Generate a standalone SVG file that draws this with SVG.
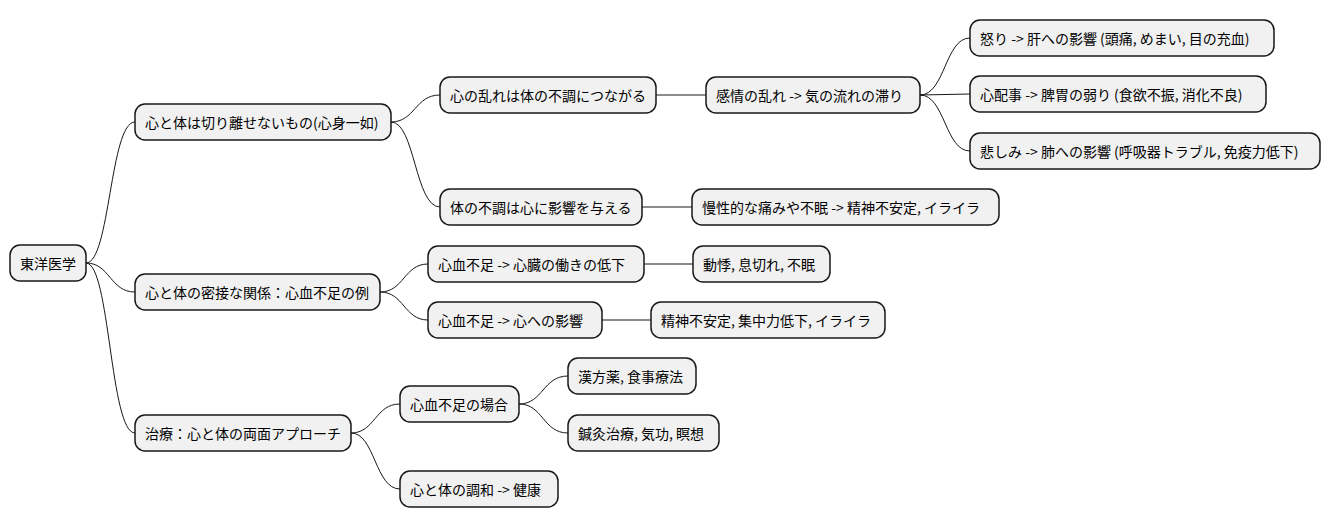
<svg xmlns="http://www.w3.org/2000/svg" width="1331" height="527" viewBox="0 0 1331 527">
<style>
rect{fill:#F1F1F1;stroke:#181818;stroke-width:1.5}
text{font-family:"Noto Sans CJK JP","Liberation Sans",sans-serif;font-size:14px;fill:#000;dominant-baseline:central}
path{fill:none;stroke:#181818;stroke-width:1}
</style>
<rect width="1331" height="527" style="fill:#fff;stroke:none"/>
<g id="connectors">
<path d="M86,263 C110,263 110,122 135,122"/>
<path d="M86,263 C110,263 110,292 135,292"/>
<path d="M86,263 C110,263 110,433 135,433"/>
<path d="M391,122 C415,122 415,95 440,95"/>
<path d="M391,122 C415,122 415,207 440,207"/>
<path d="M656,95 L706,95"/>
<path d="M920,95 C945,95 945,38 970,38"/>
<path d="M920,95 L970,94"/>
<path d="M920,95 C945,95 945,151 970,151"/>
<path d="M642,207 L692,207"/>
<path d="M380,292 C404,292 404,264 428,264"/>
<path d="M380,292 C404,292 404,320 428,320"/>
<path d="M644,264 L693,264"/>
<path d="M602,320 L651,320"/>
<path d="M351,433 C375,433 375,404 400,404"/>
<path d="M351,433 C375,433 375,489 400,489"/>
<path d="M519,404 C543,404 543,376 568,376"/>
<path d="M519,404 C543,404 543,433 568,433"/>
</g>
<g id="n0"><rect x="10" y="245" width="76" height="36" rx="10"/><text x="20" y="263">東洋医学</text></g>
<g id="n1"><rect x="135" y="104" width="256" height="36" rx="10"/><text x="145" y="122">心と体は切り離せないもの(心身一如)</text></g>
<g id="n2"><rect x="135" y="274" width="245" height="36" rx="10"/><text x="145" y="292">心と体の密接な関係：心血不足の例</text></g>
<g id="n3"><rect x="135" y="415" width="216" height="36" rx="10"/><text x="145" y="433">治療：心と体の両面アプローチ</text></g>
<g id="n4"><rect x="440" y="77" width="216" height="36" rx="10"/><text x="450" y="95">心の乱れは体の不調につながる</text></g>
<g id="n5"><rect x="440" y="189" width="202" height="36" rx="10"/><text x="450" y="207">体の不調は心に影響を与える</text></g>
<g id="n6"><rect x="706" y="77" width="214" height="36" rx="10"/><text x="716" y="95">感情の乱れ -&gt; 気の流れの滞り</text></g>
<g id="n7"><rect x="970" y="20" width="304" height="36" rx="10"/><text x="980" y="38">怒り -&gt; 肝への影響 (頭痛, めまい, 目の充血)</text></g>
<g id="n8"><rect x="970" y="76" width="296" height="36" rx="10"/><text x="980" y="94">心配事 -&gt; 脾胃の弱り (食欲不振, 消化不良)</text></g>
<g id="n9"><rect x="970" y="133" width="350" height="36" rx="10"/><text x="980" y="151">悲しみ -&gt; 肺への影響 (呼吸器トラブル, 免疫力低下)</text></g>
<g id="n10"><rect x="692" y="189" width="307" height="36" rx="10"/><text x="702" y="207">慢性的な痛みや不眠 -&gt; 精神不安定, イライラ</text></g>
<g id="n11"><rect x="428" y="246" width="216" height="36" rx="10"/><text x="438" y="264">心血不足 -&gt; 心臓の働きの低下</text></g>
<g id="n12"><rect x="693" y="246" width="137" height="36" rx="10"/><text x="703" y="264">動悸, 息切れ, 不眠</text></g>
<g id="n13"><rect x="428" y="302" width="174" height="36" rx="10"/><text x="438" y="320">心血不足 -&gt; 心への影響</text></g>
<g id="n14"><rect x="651" y="302" width="234" height="36" rx="10"/><text x="661" y="320">精神不安定, 集中力低下, イライラ</text></g>
<g id="n15"><rect x="400" y="386" width="119" height="36" rx="10"/><text x="410" y="404">心血不足の場合</text></g>
<g id="n16"><rect x="400" y="471" width="158" height="36" rx="10"/><text x="410" y="489">心と体の調和 -&gt; 健康</text></g>
<g id="n17"><rect x="568" y="358" width="128" height="36" rx="10"/><text x="578" y="376">漢方薬, 食事療法</text></g>
<g id="n18"><rect x="568" y="415" width="151" height="36" rx="10"/><text x="578" y="433">鍼灸治療, 気功, 瞑想</text></g>
</svg>
